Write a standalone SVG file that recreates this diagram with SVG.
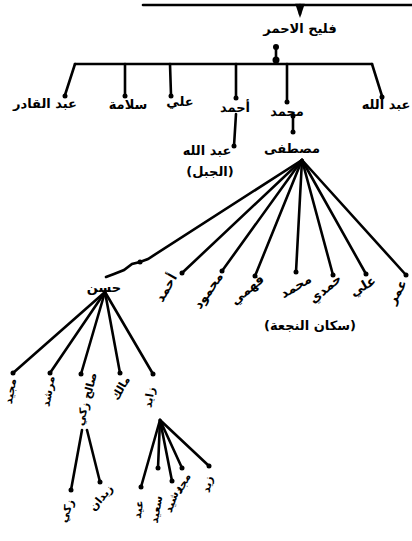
<svg xmlns="http://www.w3.org/2000/svg" width="412" height="541" viewBox="0 0 412 541">
<style>
.c line,.c path{stroke:#000;stroke-width:2.6;fill:none;stroke-linecap:round}
.d{fill:#000}
text{font-family:"DejaVu Sans",sans-serif;font-weight:bold;font-size:13px;fill:#000;text-anchor:middle;direction:rtl}
.s{font-size:11px}
</style>
<rect width="412" height="541" fill="#fff"/>
<g class="c" id="connectors">
<line x1="143" y1="5" x2="412" y2="5"/>
<path d="M297 5 L303 5 L300 14 Z" fill="#000"/>
<line x1="300" y1="5" x2="300" y2="14"/>
<line x1="276" y1="47" x2="276" y2="63"/>
<line x1="75" y1="64" x2="372" y2="64"/>
<line x1="75" y1="64" x2="65" y2="95"/>
<line x1="125" y1="64" x2="125" y2="95"/>
<line x1="170" y1="64" x2="171" y2="95"/>
<line x1="236" y1="64" x2="236" y2="97"/>
<line x1="287" y1="64" x2="287" y2="101"/>
<line x1="372" y1="64" x2="382" y2="96"/>
<line x1="236" y1="114" x2="234" y2="146"/>
<line x1="293" y1="116" x2="293" y2="132"/>
<path d="M302 160 L148 259 L140 262 L132 264 L124 270 L114 274 L106 277"/>
<line x1="302" y1="160" x2="182" y2="273"/>
<line x1="302" y1="160" x2="222" y2="271"/>
<line x1="302" y1="160" x2="255" y2="276"/>
<line x1="302" y1="160" x2="296" y2="272"/>
<line x1="302" y1="160" x2="333" y2="275"/>
<line x1="302" y1="160" x2="366" y2="274"/>
<line x1="302" y1="160" x2="406" y2="275"/>
<line x1="105" y1="292" x2="13" y2="373"/>
<line x1="105" y1="292" x2="50" y2="373"/>
<line x1="105" y1="292" x2="81" y2="374"/>
<line x1="105" y1="292" x2="120" y2="373"/>
<line x1="105" y1="292" x2="153" y2="374"/>
<line x1="82" y1="430" x2="71" y2="490"/>
<line x1="87" y1="430" x2="100" y2="482"/>
<line x1="160" y1="420" x2="141" y2="487"/>
<line x1="160" y1="420" x2="158" y2="468"/>
<line x1="160" y1="420" x2="172" y2="481"/>
<line x1="160" y1="420" x2="182" y2="468"/>
<line x1="160" y1="420" x2="209" y2="466"/>
</g>
<g class="d" id="dots">
<circle cx="276" cy="47" r="3"/><circle cx="276" cy="60" r="3.5"/>
<circle cx="65" cy="96" r="2.5"/><circle cx="125" cy="96" r="2.5"/><circle cx="171" cy="96" r="2.5"/>
<circle cx="236" cy="98" r="2.5"/><circle cx="287" cy="102" r="2.5"/><circle cx="382" cy="97" r="2.5"/>
<circle cx="293" cy="116" r="2.5"/><circle cx="293" cy="132" r="2.5"/><circle cx="234" cy="146" r="2.5"/>
<circle cx="140" cy="262" r="2.5"/><circle cx="182" cy="273" r="2.5"/><circle cx="222" cy="271" r="2.5"/>
<circle cx="255" cy="276" r="2.5"/><circle cx="296" cy="272" r="2.5"/><circle cx="333" cy="275" r="2.5"/>
<circle cx="366" cy="274" r="2.5"/><circle cx="406" cy="275" r="2.5"/>
<circle cx="13" cy="373" r="2.5"/><circle cx="50" cy="373" r="2.5"/><circle cx="81" cy="374" r="2.5"/>
<circle cx="120" cy="373" r="2.5"/><circle cx="153" cy="374" r="2.5"/>
<circle cx="71" cy="490" r="2.5"/><circle cx="100" cy="482" r="2.5"/>
<circle cx="141" cy="487" r="2.5"/><circle cx="158" cy="468" r="2.5"/><circle cx="172" cy="481" r="2.5"/>
<circle cx="182" cy="468" r="2.5"/><circle cx="209" cy="466" r="2.5"/>
</g>
<g id="n-root"><text x="300" y="33">فليح الاحمر</text></g>
<g id="n-abdulqader"><text x="45" y="108">عبد القادر</text></g>
<g id="n-salama"><text x="128" y="109">سلامة</text></g>
<g id="n-ali1"><text x="180" y="106">علي</text></g>
<g id="n-ahmad1"><text x="235" y="112">أحمد</text></g>
<g id="n-muhammad1"><text x="287" y="116">محمد</text></g>
<g id="n-abdullah1"><text x="386" y="109">عبد الله</text></g>
<g id="n-abdullah2"><text x="207" y="155">عبد الله</text><text x="210" y="176">(الجبل)</text></g>
<g id="n-mustafa"><text x="292" y="153">مصطفى</text></g>
<g id="n-hasan"><text x="104" y="292">حسن</text></g>
<g id="n-ahmad2"><text x="170" y="290" transform="rotate(-60 170 290)">أحمد</text></g>
<g id="n-mahmoud"><text x="212" y="293" transform="rotate(-55 212 293)">محمود</text></g>
<g id="n-fahmi"><text x="250" y="293" transform="rotate(-40 250 293)">فهمي</text></g>
<g id="n-muhammad2"><text x="298" y="290" transform="rotate(-30 298 290)">محمد</text></g>
<g id="n-hamdi"><text x="328" y="292" transform="rotate(-40 328 292)">حمدي</text></g>
<g id="n-ali2"><text x="365" y="290" transform="rotate(-30 365 290)">علي</text></g>
<g id="n-omar"><text x="401" y="294" transform="rotate(-60 401 294)">عمر</text></g>
<g id="n-note"><text x="310" y="330">(سكان النجعة)</text></g>
<g id="n-g1"><text x="14" y="392" transform="rotate(-80 14 392)" class="s">مجيد</text></g>
<g id="n-g2"><text x="52" y="392" transform="rotate(-80 52 392)" class="s">مرشد</text></g>
<g id="n-g3"><text x="90" y="400" transform="rotate(-75 90 400)" class="s">صالح زكي</text></g>
<g id="n-g4"><text x="124" y="390" transform="rotate(-60 124 390)" class="s">مالك</text></g>
<g id="n-g5"><text x="153" y="398" transform="rotate(-80 153 398)" class="s">زايد</text></g>
<g id="n-g6"><text x="70" y="512" transform="rotate(-70 70 512)" class="s">زكي</text></g>
<g id="n-g7"><text x="104" y="500" transform="rotate(-50 104 500)" class="s">زيدان</text></g>
<g id="n-g8"><text x="142" y="510" transform="rotate(-80 142 510)" class="s">عيد</text></g>
<g id="n-g9"><text x="160" y="510" transform="rotate(-80 160 510)" class="s">سعيد</text></g>
<g id="n-g10"><text x="176" y="500" transform="rotate(-70 176 500)" class="s">رشيد</text></g>
<g id="n-g11"><text x="186" y="485" transform="rotate(-60 186 485)" class="s">مجد</text></g>
<g id="n-g12"><text x="211" y="485" transform="rotate(-80 211 485)" class="s">زيد</text></g>
</svg>
